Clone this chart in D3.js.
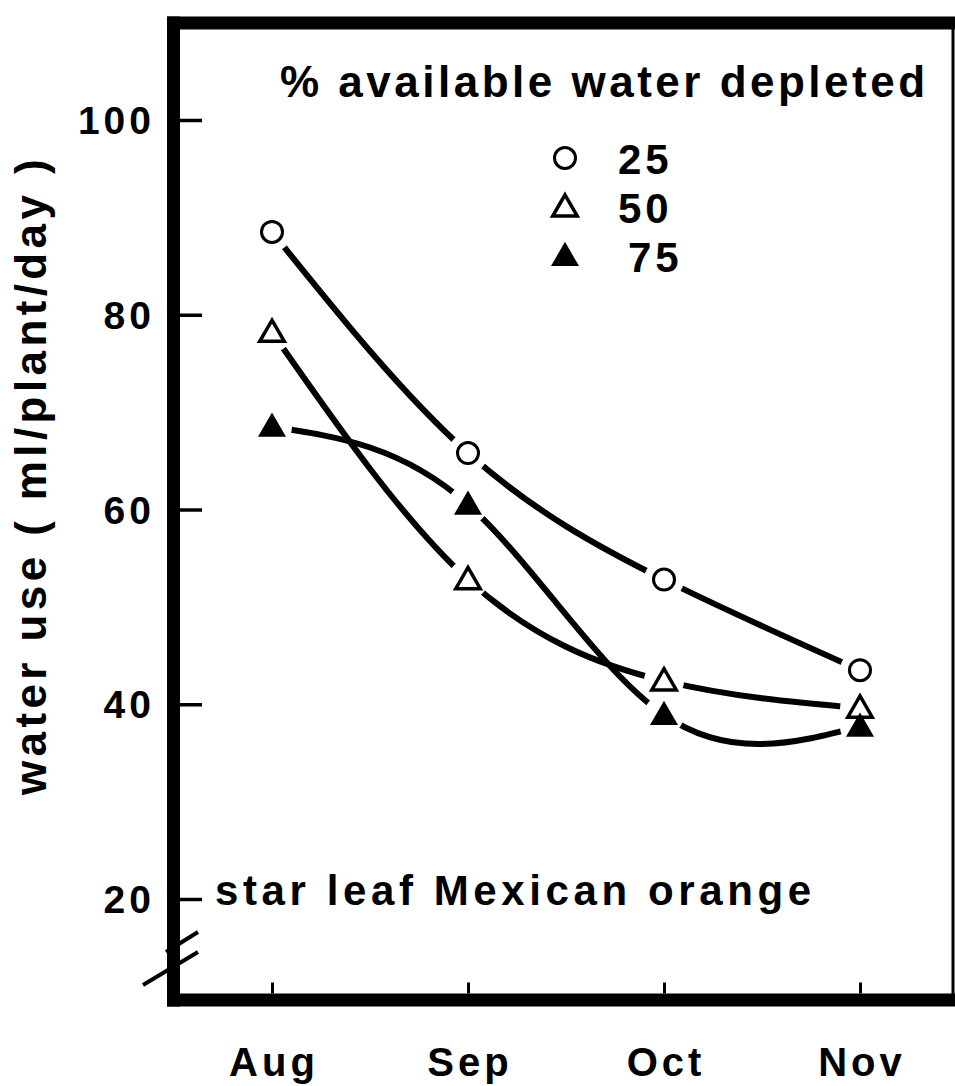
<!DOCTYPE html>
<html lang="en">
<head>
    <meta charset="UTF-8">
    <title>Water use - star leaf Mexican orange</title>
    <style>
        body {
            margin: 0;
            padding: 0;
            background: #fff;
        }

        text {
            font-family: "Liberation Sans", Arial, Helvetica, sans-serif;
            font-weight: bold;
            fill: #000;
        }
    </style>
</head>
<body>
    <script src="https://d3js.org/d3.v7.min.js"></script>
    <script>
        // data
        const months = ["Aug", "Sep", "Oct", "Nov"];
        const yTicks = [20, 40, 60, 80, 100];
        const depleted25 = [88.5, 65.8, 52.8, 43.5];
        const depleted50 = [78.2, 52.8, 42.4, 39.6];
        const depleted75 = [68.5, 60.5, 38.9, 37.7];
        const seriesNames = ["25", "50", "75"];

        const series = [
            { name: seriesNames[0], values: depleted25, symbol: "circle" },
            { name: seriesNames[1], values: depleted50, symbol: "openTri" },
            { name: seriesNames[2], values: depleted75, symbol: "fillTri" }
        ];

        const W = 955, H = 1086;
        const frame = { left: 173.5, top: 23, right: 953, bottom: 1000 };

        const svg = d3.select("body").append("svg")
            .attr("width", W)
            .attr("height", H);

        const x = d3.scalePoint()
            .domain(months)
            .range([272, 860]);

        const y = d3.scaleLinear()
            .domain([20, 100])
            .range([899, 120]);

        // masks so the curves stop short of their own markers
        const defs = svg.append("defs");
        series.forEach((s, i) => {
            const m = defs.append("mask")
                .attr("id", "gap" + i)
                .attr("maskUnits", "userSpaceOnUse")
                .attr("x", 0).attr("y", 0)
                .attr("width", W).attr("height", H);
            m.append("rect")
                .attr("width", W).attr("height", H)
                .attr("fill", "#fff");
            m.selectAll("circle")
                .data(s.values)
                .enter().append("circle")
                .attr("cx", (d, j) => x(months[j]))
                .attr("cy", d => y(d))
                .attr("r", 20)
                .attr("fill", "#000");
        });

        // frame
        svg.append("path")
            .attr("d", `M${frame.left},${frame.top - 6.5}V${frame.bottom + 6.5}`)
            .attr("stroke", "#000").attr("stroke-width", 13);
        svg.append("path")
            .attr("d", `M${frame.left - 6.5},${frame.top}H${W}`)
            .attr("stroke", "#000").attr("stroke-width", 13);
        svg.append("path")
            .attr("d", `M${frame.left - 6.5},${frame.bottom}H${W}`)
            .attr("stroke", "#000").attr("stroke-width", 13);
        svg.append("path")
            .attr("d", `M${frame.right},${frame.top}V${frame.bottom}`)
            .attr("stroke", "#000").attr("stroke-width", 3);

        // y axis, ticks pointing inwards
        const yAxis = svg.append("g")
            .attr("transform", `translate(${frame.left + 6.5},0)`)
            .call(d3.axisRight(y).tickValues(yTicks).tickSize(22).tickFormat(""));
        yAxis.select(".domain").remove();
        yAxis.selectAll(".tick line").attr("stroke", "#000").attr("stroke-width", 3.5);

        svg.selectAll(".ylab")
            .data(yTicks)
            .enter().append("text")
            .attr("class", "ylab")
            .attr("x", 155)
            .attr("y", d => y(d))
            .attr("dy", "0.36em")
            .attr("text-anchor", "end")
            .style("font-size", "39px")
            .style("letter-spacing", "4px")
            .text(d => d);

        // x axis, small ticks up from the bottom line
        const xAxis = svg.append("g")
            .attr("transform", `translate(0,${frame.bottom - 6.5})`)
            .call(d3.axisTop(x).tickSize(11).tickFormat(""));
        xAxis.select(".domain").remove();
        xAxis.selectAll(".tick line").attr("stroke", "#000").attr("stroke-width", 3);

        svg.selectAll(".xlab")
            .data(months)
            .enter().append("text")
            .attr("class", "xlab")
            .attr("x", d => x(d) + 2)
            .attr("y", 1076)
            .attr("text-anchor", "middle")
            .style("font-size", "40px")
            .style("letter-spacing", "4px")
            .text(d => d);

        // axis break marks
        svg.append("path")
            .attr("d", "M166,952L198,932M143,985L198,952")
            .attr("stroke", "#000")
            .attr("stroke-width", 4)
            .attr("fill", "none");

        // y axis title
        svg.append("text")
            .attr("transform", "translate(46,475) rotate(-90)")
            .attr("text-anchor", "middle")
            .style("font-size", "44px")
            .style("letter-spacing", "4.4px")
            .text("water use ( ml/plant/day )");

        // curves
        const line = d3.line()
            .x((d, j) => x(months[j]))
            .y(d => y(d))
            .curve(d3.curveNatural);

        series.forEach((s, i) => {
            svg.append("path")
                .attr("d", line(s.values))
                .attr("fill", "none")
                .attr("stroke", "#000")
                .attr("stroke-width", 6)
                .attr("mask", `url(#gap${i})`);
        });

        const triOpen = d3.symbol().type(d3.symbolTriangle).size(260);
        const triFill = d3.symbol().type(d3.symbolTriangle).size(340);

        function drawMarker(g, type, cx, cy) {
            if (type === "circle") {
                g.append("circle")
                    .attr("cx", cx).attr("cy", cy).attr("r", 10.5)
                    .attr("fill", "#fff").attr("stroke", "#000").attr("stroke-width", 3);
            } else if (type === "openTri") {
                g.append("path")
                    .attr("d", triOpen())
                    .attr("transform", `translate(${cx},${cy + 2})`)
                    .attr("fill", "#fff").attr("stroke", "#000").attr("stroke-width", 3.5)
                    .attr("stroke-linejoin", "miter");
            } else {
                g.append("path")
                    .attr("d", triFill())
                    .attr("transform", `translate(${cx},${cy + 2})`)
                    .attr("fill", "#000");
            }
        }

        const marks = svg.append("g");
        series.forEach(s => {
            s.values.forEach((v, j) => drawMarker(marks, s.symbol, x(months[j]), y(v)));
        });

        // legend
        svg.append("text")
            .attr("x", 280)
            .attr("y", 97)
            .style("font-size", "44px")
            .style("letter-spacing", "3.5px")
            .text("% available water depleted");

        const legend = svg.append("g");
        series.forEach((s, i) => {
            const ly = 158 + i * 49;
            drawMarker(legend, s.symbol, 565, ly);
            legend.append("text")
                .attr("x", i === 2 ? 628 : 618)
                .attr("y", ly + 16)
                .style("font-size", "42px")
                .style("letter-spacing", "4px")
                .text(s.name);
        });

        // species note
        svg.append("text")
            .attr("x", 215)
            .attr("y", 905)
            .style("font-size", "42px")
            .style("letter-spacing", "4.6px")
            .text("star leaf Mexican orange");
    </script>
</body>
</html>
